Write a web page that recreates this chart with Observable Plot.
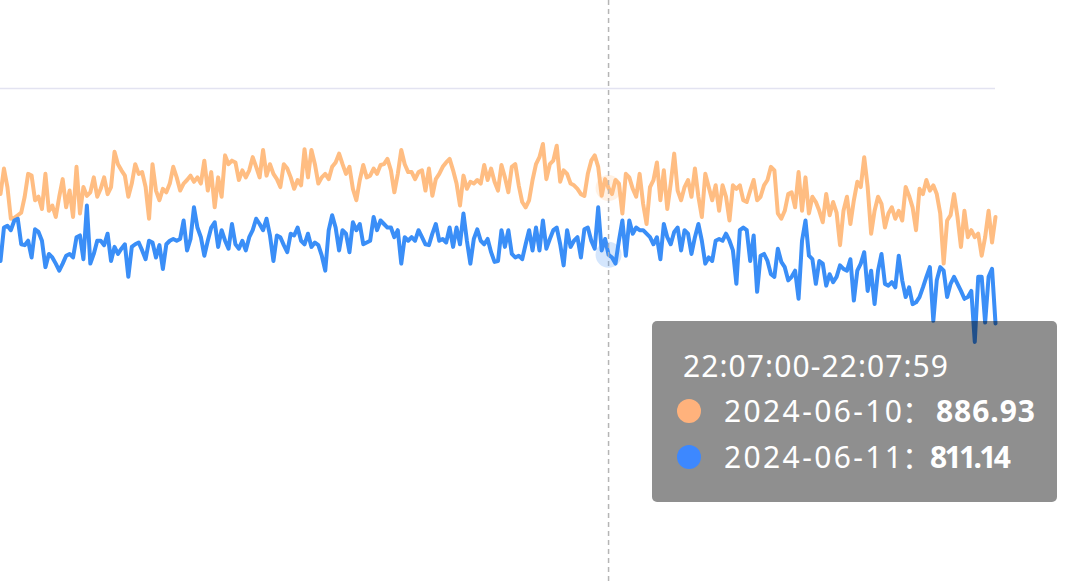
<!DOCTYPE html>
<html><head><meta charset="utf-8">
<script src="https://cdn.jsdelivr.net/npm/d3@7"></script>
<script src="https://cdn.jsdelivr.net/npm/@observablehq/plot@0.6"></script>
<style>html,body{margin:0;padding:0;background:#fff;} #chart svg{display:block;}</style>
</head><body><div id="chart"></div>
<script>
const seriesNames = ["2024-06-10", "2024-06-11"];
const lineColors = ["#ffbd82", "#3a8ef7"];
const dotColors = ["#ffb27c", "#3d88ff"];
const startTime = "19:11";
const hoverTime = "22:07";
const hoverLabel = "22:07:00-22:07:59";
const gridValues = [1000];

const series0610 = [
880,909,888,852,853,856,859,877,903,901,873,877,863,903,861,867,854,877,897,865,
884,854,911,858,888,878,882,899,877,886,899,880,888,928,914,907,901,877,892,914,
903,905,888,852,914,884,873,886,882,892,911,899,884,892,896,901,894,899,892,918,
884,905,865,899,877,924,914,918,916,896,907,899,
907,922,911,899,930,901,914,903,897,888,914,909,899,886,896,890,931,899,930,914,
892,899,903,897,911,916,926,914,903,911,886,873,896,913,899,901,909,903,913,914,
920,907,882,903,930,914,905,905,897,905,907,884,909,878,897,903,911,916,920,907,
892,867,901,886,894,892,896,892,913,896,909,894,
884,913,899,882,911,914,890,871,865,873,896,914,922,937,897,914,918,935,894,907,
903,892,890,886,880,878,903,918,924,911,878,897,886.93,880,896,892,858,903,899,886,
877,903,869,846,888,896,916,873,907,863,892,926,884,873,888,896,877,909,877,854,
903,888,873,890,861,890,877,850,890,886,890,873,
871,884,896,873,877,890,896,911,907,858,852,861,880,882,865,905,861,899,858,877,
871,861,848,880,856,871,859,822,861,877,846,873,894,888,922,888,835,861,877,869,
842,858,865,852,861,850,888,878,865,839,886,880,896,884,890,880,858,801,850,856,
880,854,820,861,831,839,831,835,810,831,861,825,854
];

const series0611 = [
804,842,844,839,850,852,823,822,827,808,840,837,827,797,812,808,801,793,801,810,
812,808,831,833,806,867,801,812,827,827,822,835,804,820,812,818,823,786,820,823,
825,816,806,827,825,808,822,795,823,827,829,827,829,850,816,829,865,842,831,810,
827,842,848,820,839,827,818,846,823,818,827,816,
831,839,852,846,839,852,833,804,833,831,822,814,835,833,842,827,823,835,820,825,
822,810,793,839,856,842,816,839,835,814,848,839,846,823,825,827,854,839,850,846,
842,842,831,839,801,831,827,831,827,839,831,823,822,835,846,827,829,825,842,820,
842,823,858,827,801,829,840,827,823,829,814,803,
804,839,820,839,812,808,810,806,823,839,816,842,816,850,818,829,839,842,823,799,
839,820,827,831,808,840,842,827,818,865,816,829,811.14,808,801,827,850,810,850,835,
842,839,839,835,831,823,831,806,846,831,823,837,842,816,839,835,812,831,846,827,
801,808,804,827,829,827,835,827,816,778,839,842,
839,804,833,769,810,812,804,789,786,818,803,797,782,786,793,761,827,850,810,806,
778,804,801,776,789,780,786,799,795,793,806,759,793,801,814,770,793,755,793,812,
778,776,780,774,810,782,763,774,755,757,763,774,786,797,736,782,797,793,763,778,
786,778,770,761,763,770,712,786,786,734,786,795,733
];

function toMin(s){ const [h,m] = s.split(":").map(Number); return h*60+m; }
const t0 = toMin(startTime);
const tEnd = t0 + series0610.length - 1;
const allSeries = [series0610, series0611];
const rows = [];
allSeries.forEach((arr, k) => arr.forEach((v, i) => rows.push({series: seriesNames[k], t: t0 + i, value: v})));
const hoverT = toMin(hoverTime);
const hoverIdx = hoverT - t0;
const hoverRows = seriesNames.map((s, k) => ({series: s, t: hoverT, value: allSeries[k][hoverIdx]}));

const chart = Plot.plot({
  width: 1080, height: 583,
  marginTop: 0, marginBottom: 0, marginLeft: 0, marginRight: 85,
  x: {domain: [t0, tEnd], axis: null},
  y: {domain: [437.5, 1100], axis: null},
  color: {domain: seriesNames, range: lineColors},
  marks: [
    Plot.ruleY(gridValues, {stroke: "#e3e3f1", strokeWidth: 1.5}),
    Plot.line(rows, {x: "t", y: "value", z: "series", stroke: "series", strokeWidth: 4, strokeLinejoin: "round", strokeLinecap: "round"}),
    Plot.ruleX([hoverT], {stroke: "#b5b5b5", strokeWidth: 1.5, strokeDasharray: "5,4"}),
    Plot.dot(hoverRows, {x: "t", y: "value", fill: "series", r: 13, fillOpacity: 0.22, stroke: null})
  ]
});
document.getElementById("chart").appendChild(chart);

// tooltip annotation
const g = d3.select(chart).append("g")
  .attr("font-family", "'Noto Sans','Noto Sans CJK SC',sans-serif")
  .attr("text-anchor", "start")
  .attr("font-size", 30)
  .attr("fill", "#fff");
g.append("rect").attr("x", 652).attr("y", 321).attr("width", 405).attr("height", 181)
  .attr("rx", 5).attr("fill", "#000").attr("fill-opacity", 0.44);
g.append("text").attr("x", 683).attr("y", 377).attr("textLength", 265).text(hoverLabel);
const rowY = [422, 468];
const valueX = [936, 930];
const valueW = [99, 81];
hoverRows.forEach((d, k) => {
  g.append("circle").attr("cx", 689).attr("cy", rowY[k] - 11).attr("r", 12).attr("fill", dotColors[k]);
  g.append("text").attr("x", 724).attr("y", rowY[k]).attr("textLength", 178).text(d.series);
  g.append("text").attr("x", 902).attr("y", rowY[k]).text("：");
  g.append("text").attr("x", valueX[k]).attr("y", rowY[k]).attr("textLength", valueW[k])
    .attr("font-weight", "bold").text(d.value.toFixed(2));
});
</script>
</body></html>
